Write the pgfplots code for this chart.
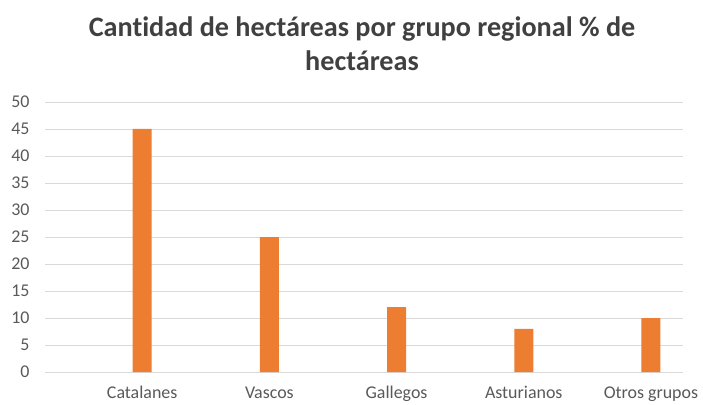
\documentclass[border=0pt]{standalone}
\usepackage{pgfplots}
\pgfplotsset{compat=1.18}
\usepackage{fontspec}
\setmainfont{Carlito}[Ligatures=NoCommon]
\definecolor{barorange}{HTML}{ED7D31}
\definecolor{gridgray}{HTML}{D9D9D9}
\definecolor{ticktext}{HTML}{595959}
\definecolor{titletext}{HTML}{404040}
\begin{document}
\begin{tikzpicture}[x=1bp,y=1bp]
\useasboundingbox (0,0) rectangle (703,404);
\begin{axis}[
  at={(45bp,32bp)}, anchor=south west,
  scale only axis,
  width=638bp, height=270bp,
  xmin=-0.764, xmax=4.252,
  ymin=0, ymax=50,
  ytick={0,5,...,50},
  xtick=data,
  xticklabels={Catalanes,Vascos,Gallegos,Asturianos,Otros grupos},
  ymajorgrids,
  grid style={gridgray, line width=0.8pt},
  axis line style={draw=none},
  tick style={draw=none},
  tick label style={font=\fontsize{18}{20}\selectfont, text=ticktext},
  /pgf/number format/assume math mode=true,
  xticklabel style={text height=11bp, text depth=4bp, yshift=-8bp},
  yticklabel style={anchor=east, xshift=-12bp},
  ybar, bar width=19bp,
  clip=false,
]
\draw[gridgray, line width=0.8pt] (axis cs:-0.764,0) -- (axis cs:4.252,0);
\addplot[fill=barorange, draw=none] coordinates {(0,45) (1,25) (2,12) (3,8) (4,10)};
\end{axis}
\node[align=center, text=titletext, font=\fontsize{28.3}{34}\selectfont\bfseries] at (362,360) {Cantidad de hectáreas por grupo regional \% de\\hectáreas};
\end{tikzpicture}
\end{document}
